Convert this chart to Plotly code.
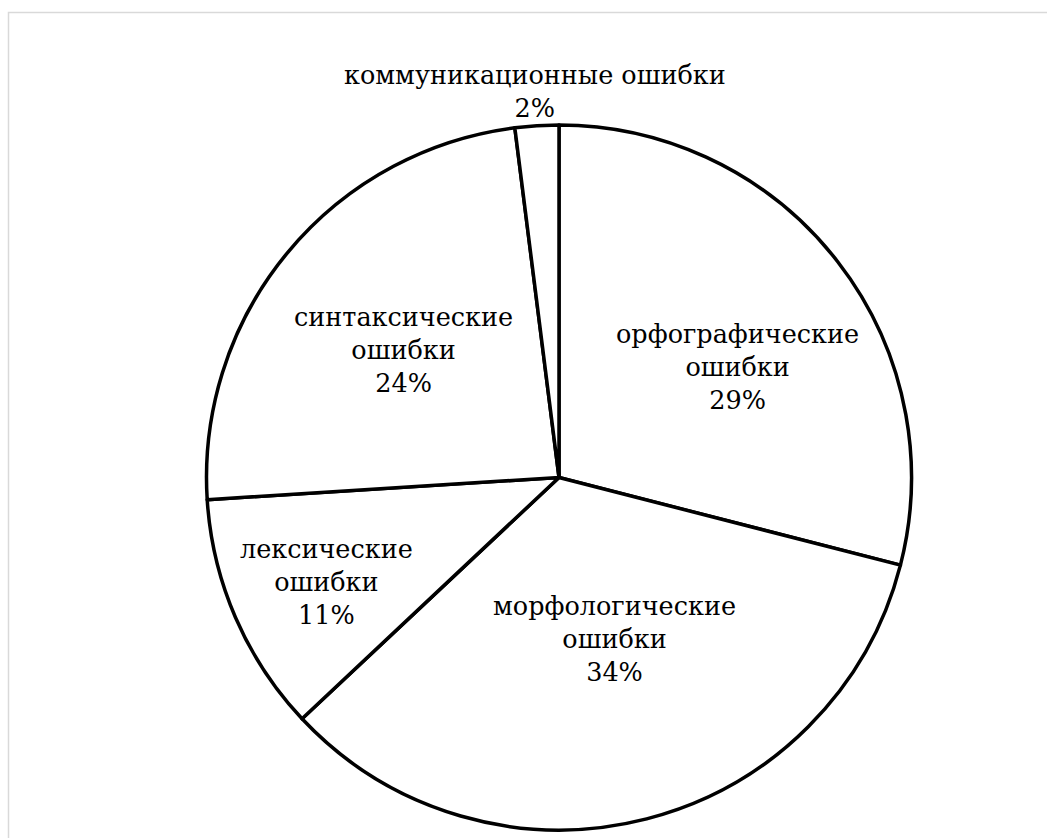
import math
import plotly.graph_objects as go

categories = ["орфографические<br>ошибки", "морфологические<br>ошибки", "лексические<br>ошибки",
              "синтаксические<br>ошибки", "коммуникационные ошибки"]
values = [29, 34, 11, 24, 2]

# label placement (style): radial fraction of radius, angle offset (deg) from slice middle
label_radius = [0.596, 0.485, 0.722, 0.570, 1.096]
label_angle_offset = [6.0, -4.7, -0.85, -0.25, 0.0]

W, H = 1047, 838
cx, cy, r = 559, 477.5, 352.5
FONT = dict(family="DejaVu Serif", size=25.5, color="black")

fig = go.Figure(go.Pie(
    labels=categories,
    values=values,
    sort=False,
    direction="clockwise",
    rotation=0,
    marker=dict(colors=["white"] * len(values), line=dict(color="black", width=3.5)),
    textinfo="none",
    domain=dict(x=[(cx - r) / W, (cx + r) / W], y=[(H - (cy + r)) / H, (H - (cy - r)) / H]),
    showlegend=False,
    hoverinfo="label+percent",
))

total = sum(values)
annotations = []
cum = 0
for lab, v, fr, off in zip(categories, values, label_radius, label_angle_offset):
    mid = (cum + v / 2) / total * 360 + off
    cum += v
    px = cx + fr * r * math.sin(math.radians(mid))
    py = cy - fr * r * math.cos(math.radians(mid))
    annotations.append(dict(
        x=px / W, y=1 - py / H, xref="paper", yref="paper",
        text=f"{lab}<br>{round(v / total * 100)}%",
        showarrow=False, font=FONT, align="center",
        xanchor="center", yanchor="middle",
    ))

fig.update_layout(
    width=W, height=H,
    margin=dict(l=0, r=0, t=0, b=0),
    paper_bgcolor="white",
    plot_bgcolor="white",
    font=dict(family="DejaVu Serif"),
    annotations=annotations,
    shapes=[dict(type="rect", xref="paper", yref="paper",
                 x0=8.5 / W, x1=1.02, y0=-0.02, y1=(H - 12.5) / H,
                 line=dict(color="#d9d9d9", width=1.5), fillcolor="rgba(0,0,0,0)", layer="below")],
)

fig.write_html("out.html")
